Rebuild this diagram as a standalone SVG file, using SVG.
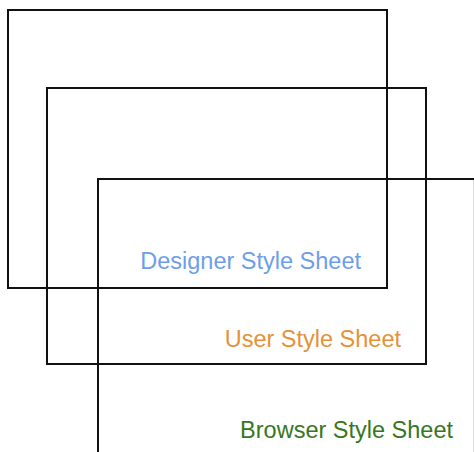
<svg xmlns="http://www.w3.org/2000/svg" width="474" height="452" viewBox="0 0 474 452">
<style>
.box{fill:none;stroke:#111;stroke-width:2}
.lbl{font-family:"Liberation Sans",Arial,sans-serif;font-size:23.5px;text-anchor:end}
</style>
<rect width="474" height="452" fill="#fff"/>
<g id="designer">
<rect class="box" x="8" y="10" width="379" height="278"/>
<text class="lbl" x="361" y="268.5" fill="#6d9eeb">Designer Style Sheet</text>
</g>
<g id="user">
<rect class="box" x="47" y="88" width="379" height="276"/>
<text class="lbl" x="401" y="346.5" fill="#e69138">User Style Sheet</text>
</g>
<g id="browser">
<rect class="box" x="98" y="179" width="376.85" height="300"/>
<text class="lbl" x="453" y="438" fill="#38761d">Browser Style Sheet</text>
</g>
<g id="connectors"/>
</svg>
